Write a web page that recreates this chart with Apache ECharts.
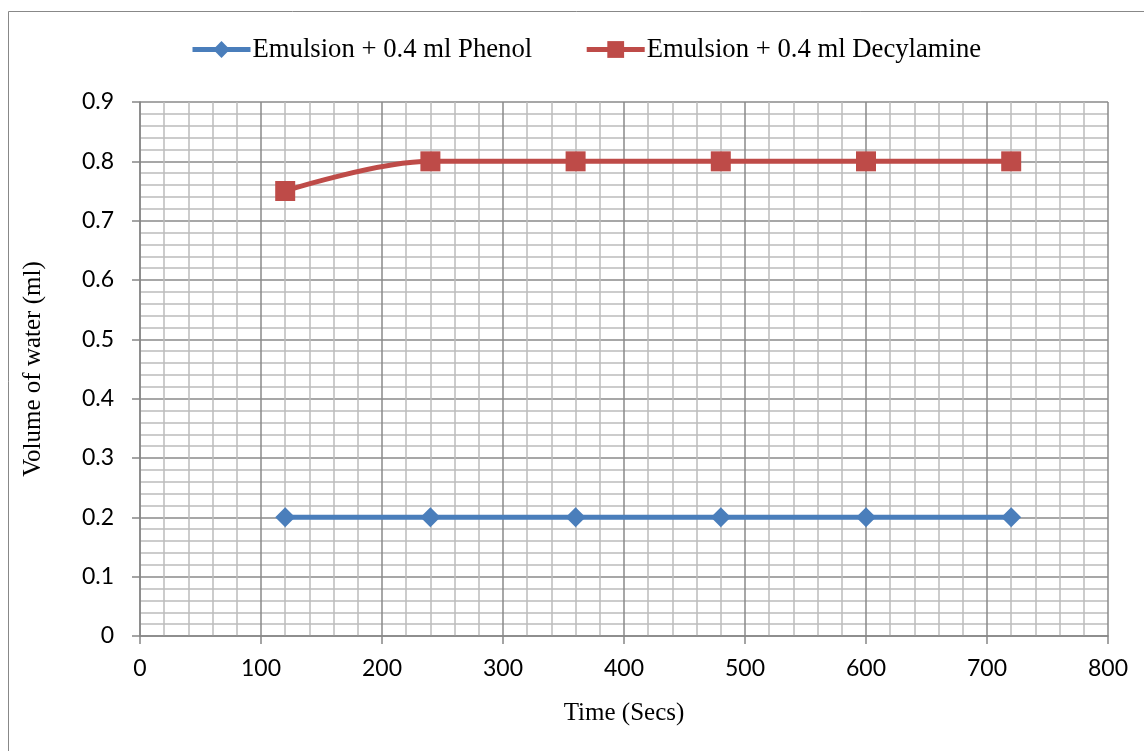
<!DOCTYPE html>
<html>
<head>
<meta charset="utf-8">
<script src="https://cdn.jsdelivr.net/npm/echarts@6/dist/echarts.min.js"></script>
<style>
  html, body { margin: 0; padding: 0; background: #fff; }
  #chart { width: 1144px; height: 751px; }
</style>
</head>
<body>
<div id="chart"></div>
<script>
// Time in seconds and measured water volume (ml)
const timeSecs = [120, 240, 360, 480, 600, 720];
const phenolVolume = [0.2, 0.2, 0.2, 0.2, 0.2, 0.2];
const decylamineVolume = [0.75, 0.8, 0.8, 0.8, 0.8, 0.8];
const seriesNames = ['Emulsion + 0.4 ml Phenol', 'Emulsion + 0.4 ml Decylamine'];

const pairs = (xs, ys) => xs.map((x, i) => [x, ys[i]]);

const chart = echarts.init(document.getElementById('chart'));
const tickFont = { fontFamily: 'Lato', fontSize: 23, color: '#000' };
const serif = 'Liberation Serif';
const axisGray = '#868686';

chart.setOption({
  animation: false,
  backgroundColor: '#fff',
  graphic: [{
    type: 'rect',
    shape: { x: 8.5, y: 11.5, width: 1300, height: 900 },
    style: { fill: 'none', stroke: '#888', lineWidth: 1 },
    silent: true, z: -1
  }],
  legend: {
    top: 31,
    left: 185,
    itemGap: 52,
    itemWidth: 58,
    itemHeight: 21,
    textStyle: { fontFamily: serif, fontSize: 26.7, color: '#000', padding: [0, 0, 0, -3] },
    lineStyle: { width: 5 },
    data: seriesNames
  },
  grid: { left: 140, right: 36, top: 102, bottom: 115, containLabel: false },
  xAxis: {
    type: 'value',
    min: 0, max: 800, interval: 100,
    name: 'Time (Secs)',
    nameLocation: 'middle',
    nameGap: 65,
    nameTextStyle: { fontFamily: serif, fontSize: 25, color: '#000' },
    axisLine: { show: true, onZero: false, lineStyle: { color: axisGray, width: 1.5 } },
    axisTick: { show: true, length: 8, lineStyle: { color: axisGray, width: 1.5 } },
    axisLabel: Object.assign({ margin: 21 }, tickFont),
    splitLine: { show: true, lineStyle: { color: '#8a8a8a', width: 1.5 } },
    minorTick: { show: false, splitNumber: 5 },
    minorSplitLine: { show: true, lineStyle: { color: '#bcbcbc', width: 1.5 } }
  },
  yAxis: {
    type: 'value',
    min: 0, max: 0.9, interval: 0.1,
    name: 'Volume of water (ml)',
    nameLocation: 'middle',
    nameGap: 94,
    nameTextStyle: { fontFamily: serif, fontSize: 25, color: '#000' },
    axisLine: { show: true, lineStyle: { color: axisGray, width: 1.5 } },
    axisTick: { show: true, length: 8, lineStyle: { color: axisGray, width: 1.5 } },
    axisLabel: Object.assign({ margin: 26, formatter: v => String(+v.toFixed(1)) }, tickFont),
    splitLine: { show: true, lineStyle: { color: '#8a8a8a', width: 1.5 } },
    minorTick: { show: false, splitNumber: 5 },
    minorSplitLine: { show: true, lineStyle: { color: '#bcbcbc', width: 1.5 } }
  },
  series: [
    {
      name: seriesNames[0],
      type: 'line',
      data: pairs(timeSecs, phenolVolume),
      symbol: 'diamond',
      symbolSize: 20,
      itemStyle: { color: '#4a7ebb' },
      lineStyle: { color: '#4a7ebb', width: 5 }
    },
    {
      name: seriesNames[1],
      type: 'line',
      data: pairs(timeSecs, decylamineVolume),
      smooth: 0.35,
      symbol: 'rect',
      symbolSize: 20,
      itemStyle: { color: '#be4b48' },
      lineStyle: { color: '#be4b48', width: 5 }
    }
  ]
});
</script>
</body>
</html>
